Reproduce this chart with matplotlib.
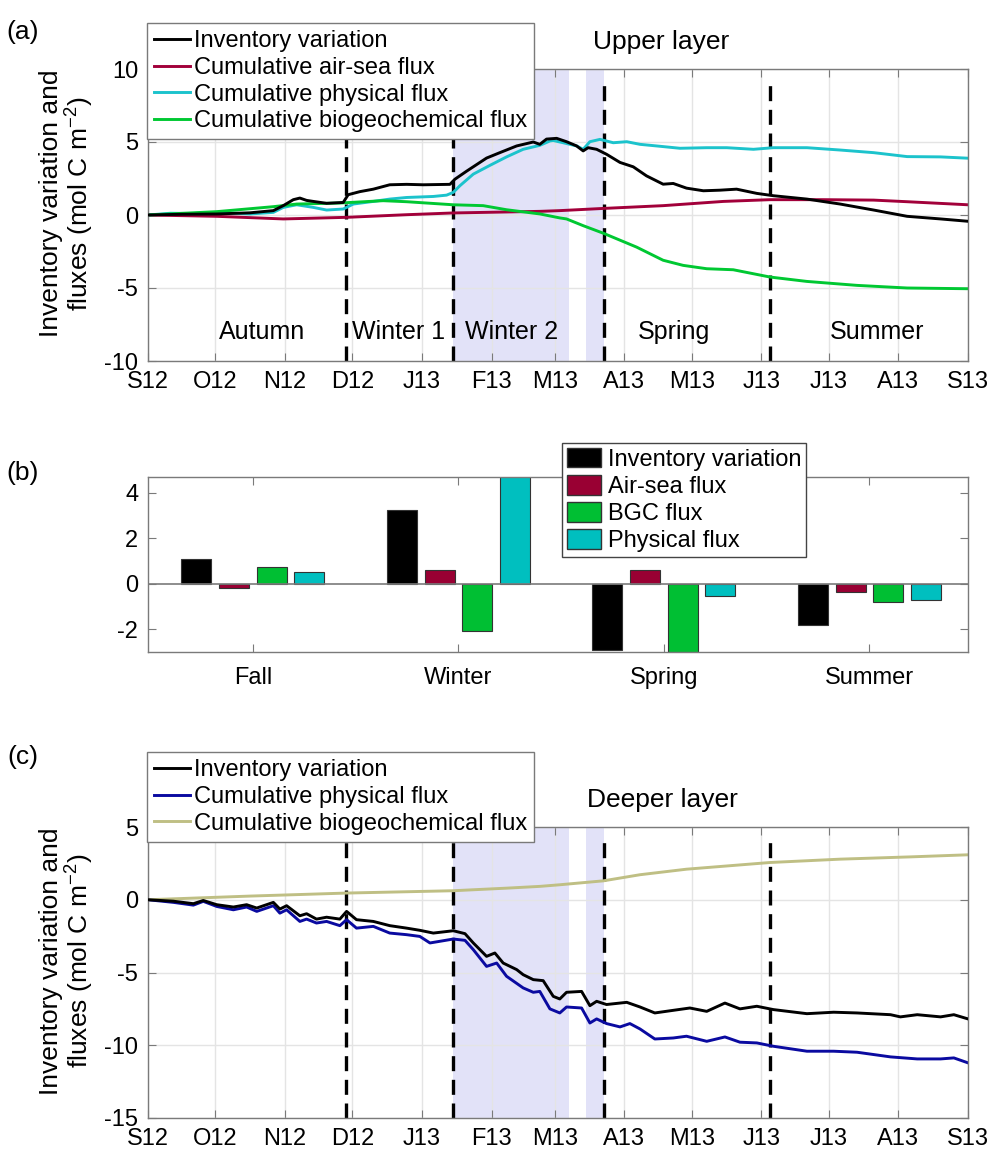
import numpy as np
import matplotlib
matplotlib.use("Agg")
import matplotlib.pyplot as plt
from matplotlib.patches import Patch

plt.rcParams.update({
    "font.family": ["Liberation Sans", "DejaVu Sans"],
    "font.size": 17,
    "axes.edgecolor": "#7a7a7a",
    "axes.linewidth": 1.0,
    "axes.unicode_minus": False,
    "mathtext.fontset": "custom",
    "mathtext.rm": "Liberation Sans",
    "mathtext.it": "Liberation Sans:italic",
})

# ---------------- data ----------------
# days since 1 Sep 2012
month_days = [0, 30, 61, 91, 122, 153, 181, 212, 242, 273, 303, 334, 365]
month_labels = ["S12", "O12", "N12", "D12", "J13", "F13", "M13", "A13",
                "M13", "J13", "J13", "A13", "S13"]

season_breaks = [88, 135.8, 203, 277]
shade_spans = [(135.8, 187.4), (195, 203)]
season_names = ["Autumn", "Winter 1", "Winter 2", "Spring", "Summer"]
season_x = [50.6, 111.7, 161.9, 234, 324.4]

# (a) upper layer
up_inv_d = [0, 15, 30.6, 45.4, 55.8, 60.2, 64.7, 67.6, 70.6, 73.6, 79.5, 86.9, 89.1,
            94.3, 100.3, 107.6, 115.1, 122.5, 134.4, 136.6, 141.8, 150.7, 156.6,
            164.1, 171.5, 174.4, 177.4, 181.9, 186.3, 190.8, 193.7, 195.9, 199.7,
            204.1, 210.1, 216, 221.9, 229.3, 233.8, 239.7, 247.2, 254.6, 262, 271,
            278.4, 293.3, 308.1, 323, 337.9, 352.8, 365]
up_inv_v = [0, 0.05, 0.07, 0.15, 0.3, 0.64, 1.05, 1.16, 1.0, 0.93, 0.8, 0.86, 1.39,
            1.6, 1.77, 2.07, 2.1, 2.07, 2.1, 2.45, 3.0, 3.9, 4.27, 4.73, 5.0, 4.84,
            5.2, 5.25, 5.02, 4.73, 4.39, 4.61, 4.5, 4.16, 3.6, 3.3, 2.68, 2.11, 2.16,
            1.84, 1.66, 1.7, 1.77, 1.48, 1.32, 1.09, 0.75, 0.34, -0.09, -0.27, -0.43]

up_air_d = [0, 30.6, 60.2, 88.4, 115.1, 135.9, 174.5, 183.3, 202.7, 229.3, 256.1,
            276.9, 300.7, 323, 337.9, 365]
up_air_v = [0, -0.09, -0.27, -0.16, 0.02, 0.14, 0.25, 0.3, 0.45, 0.64, 0.93, 1.05,
            1.05, 1.02, 0.91, 0.7]

up_phy_d = [0, 10, 20, 30.6, 45.4, 55.8, 60.2, 66.2, 73.6, 79.5, 86.9, 91.4, 100.3,
            107.6, 115.1, 127, 132.9, 135.9, 138.8, 144.8, 152.2, 159.6, 167, 174.4,
            178.9, 180.4, 184.8, 190.8, 193.7, 196.7, 201.2, 207.1, 213.1, 219,
            226.4, 236.8, 248.7, 257.6, 269.5, 278.4, 293.3, 308.1, 323, 337.9,
            352.8, 365]
up_phy_v = [0, 0.12, 0.1, 0.18, 0.07, 0.18, 0.52, 0.7, 0.52, 0.34, 0.41, 0.75, 0.93,
            1.09, 1.2, 1.27, 1.36, 1.55, 2.0, 2.8, 3.4, 3.98, 4.5, 4.77, 5.07, 5.1,
            4.95, 4.73, 4.5, 5.02, 5.18, 4.95, 5.02, 4.84, 4.73, 4.57, 4.61, 4.61,
            4.5, 4.61, 4.61, 4.45, 4.27, 4.0, 3.98, 3.89]

up_bgc_d = [0, 30.6, 55.8, 66.2, 85.4, 104.7, 115.1, 135.9, 149.2, 159.6, 174.5,
            183.3, 186.3, 193.7, 202.7, 217.5, 229.3, 238.2, 248.7, 260.5, 276.9,
            293.3, 315.6, 337.9, 365]
up_bgc_v = [0, 0.23, 0.57, 0.75, 0.82, 0.98, 0.91, 0.7, 0.64, 0.36, 0.07, -0.2,
            -0.27, -0.73, -1.25, -2.2, -3.1, -3.45, -3.68, -3.75, -4.25, -4.55,
            -4.82, -5.0, -5.05]

# (b) seasonal budgets
seasons = ["Fall", "Winter", "Spring", "Summer"]
bar_inv = [1.09, 3.24, -2.91, -1.81]
bar_air = [-0.19, 0.60, 0.60, -0.34]
bar_bgc = [0.76, -2.07, -2.99, -0.79]
bar_phy = [0.50, 4.75, -0.53, -0.72]

# (c) deeper layer
dp_inv_d = [0, 11.3, 20.2, 24.6, 30.6, 38, 43.9, 48.4, 55.8, 58.7, 61.7, 67.6, 70.6,
            75, 79.5, 85.4, 88.4, 92.8, 100.3, 107.6, 115.1, 121, 127, 135.9, 141.1,
            144.8, 150.7, 154.4, 158.1, 164.1, 167, 171.5, 175.9, 180.4, 183.3,
            186.3, 193, 196.7, 199.7, 204.1, 213.1, 219, 225.6, 233.8, 241.2, 248.7,
            256.8, 263.5, 271, 278.4, 293.3, 305.2, 315.6, 330.5, 334.9, 342.4,
            352.8, 358.7, 365]
dp_inv_v = [0, -0.1, -0.27, -0.05, -0.34, -0.5, -0.34, -0.57, -0.18, -0.64, -0.41,
            -1.1, -0.96, -1.33, -1.2, -1.33, -0.8, -1.37, -1.49, -1.78, -1.95, -2.1,
            -2.29, -2.13, -2.33, -2.97, -3.89, -3.66, -4.35, -4.8, -5.15, -5.49,
            -5.56, -6.64, -6.82, -6.36, -6.3, -7.28, -6.98, -7.2, -7.05, -7.37,
            -7.78, -7.6, -7.44, -7.67, -7.1, -7.5, -7.32, -7.55, -7.83, -7.73,
            -7.78, -7.9, -8.05, -7.9, -8.05, -7.9, -8.19]

dp_phy_d = [0, 11.3, 20.2, 24.6, 30.6, 38, 43.9, 48.4, 55.8, 58.7, 61.7, 67.6, 70.6,
            75, 79.5, 85.4, 88.4, 92.8, 100.3, 107.6, 115.1, 121, 125.5, 135.9,
            141.1, 144.8, 150.7, 155.2, 159.6, 167, 171.5, 174.4, 178.9, 183.3,
            186.3, 193, 196.7, 199.7, 204.1, 210.1, 214.5, 219, 225.6, 233.8, 239.7,
            248.7, 256.8, 263.5, 271, 278.4, 293.3, 305.2, 315.6, 330.5, 342.4,
            352.8, 358.7, 365]
dp_phy_v = [0, -0.18, -0.37, -0.11, -0.46, -0.69, -0.5, -0.8, -0.41, -0.92, -0.69,
            -1.49, -1.33, -1.6, -1.49, -1.78, -1.37, -1.95, -1.83, -2.29, -2.4,
            -2.52, -2.97, -2.7, -2.79, -3.43, -4.58, -4.35, -5.26, -6.06, -6.36,
            -6.3, -7.5, -7.78, -7.37, -7.44, -8.47, -8.19, -8.51, -8.74, -8.51,
            -8.88, -9.57, -9.5, -9.38, -9.73, -9.43, -9.79, -9.84, -10.07, -10.41,
            -10.41, -10.48, -10.8, -10.94, -10.94, -10.87, -11.21]

dp_bgc_d = [0, 45, 88.4, 135.9, 160, 174.5, 183.3, 202.7, 219, 239.7, 276.9, 308.1,
            340, 365]
dp_bgc_v = [0, 0.25, 0.46, 0.62, 0.8, 0.92, 1.03, 1.3, 1.72, 2.1, 2.56, 2.79, 2.95,
            3.09]

# ---------------- styling ----------------
C_BLACK = "#000000"
C_AIR = "#a2003a"
C_PHY = "#1cc3cc"
C_BGC = "#00c832"
C_DPHY = "#0a0aa0"
C_DBGC = "#bfbf84"
SHADE = "#e2e2f8"
GRID = "#e4e4e4"
LW = 2.1

W, H = 992, 1153
fig = plt.figure(figsize=(W / 100, H / 100), dpi=100)

def ax_rect(left, top, right, bottom):
    return [left / W, 1 - bottom / H, (right - left) / W, (bottom - top) / H]

def style_time_axis(ax, ylim, yticks):
    ax.set_xlim(0, 365)
    ax.set_ylim(*ylim)
    ax.set_xticks(month_days)
    ax.set_xticklabels(month_labels)
    ax.set_yticks(yticks)
    ax.grid(True, color=GRID, lw=1.0)
    ax.set_axisbelow(True)
    ax.tick_params(direction="in", length=6, color="#7a7a7a", top=True, right=True,
                   labelsize=17)
    ax.tick_params(axis="x", pad=7)
    ax.tick_params(axis="y", pad=7)
    for x0, x1 in shade_spans:
        ax.axvspan(x0, x1, color=SHADE, lw=0, zorder=0.5)
    for xb in season_breaks:
        ax.axvline(xb, ymin=0, ymax=0.955, color="k", lw=2.4, dashes=(4.5, 2.6),
                   zorder=1.5)
    ax.set_ylabel("Inventory variation and\nfluxes (mol C m$^{-2}$)", fontsize=19,
                  linespacing=1.05)
    ax.yaxis.set_label_coords(-0.063, 0.54)

def line_legend(handles, labels, top_px):
    leg = fig.legend(handles, labels, loc="upper left",
                     bbox_to_anchor=(147 / W, 1 - top_px / H),
                     fontsize=17, frameon=True, fancybox=False, framealpha=1,
                     edgecolor="#7a7a7a", borderpad=0.3, labelspacing=0.2,
                     handlelength=1.5, handletextpad=0.17, borderaxespad=0)
    leg.get_frame().set_linewidth(1.0)
    return leg

# ---------------- (a) ----------------
ax1 = fig.add_axes(ax_rect(148, 69, 968, 361))
style_time_axis(ax1, (-10, 10), [-10, -5, 0, 5, 10])
l1, = ax1.plot(up_inv_d, up_inv_v, color=C_BLACK, lw=LW, zorder=3)
l2, = ax1.plot(up_air_d, up_air_v, color=C_AIR, lw=LW, zorder=2)
l3, = ax1.plot(up_phy_d, up_phy_v, color=C_PHY, lw=LW, zorder=2)
l4, = ax1.plot(up_bgc_d, up_bgc_v, color=C_BGC, lw=LW, zorder=2)
for name, xs in zip(season_names, season_x):
    ax1.text(xs, -8.0, name, ha="center", va="center", fontsize=18)
line_legend([l1, l2, l3, l4],
            ["Inventory variation", "Cumulative air-sea flux",
             "Cumulative physical flux", "Cumulative biogeochemical flux"], 23)
fig.text(661 / W, 1 - 42 / H, "Upper layer", ha="center", va="center", fontsize=19)
fig.text(23 / W, 1 - 32 / H, "(a)", ha="center", va="center", fontsize=19)

# ---------------- (b) ----------------
ax2 = fig.add_axes(ax_rect(148, 477, 968, 652))
x = np.arange(1, len(seasons) + 1)
step = 0.183
width = 0.146
bar_sets = [(bar_inv, "#000000", "Inventory variation"),
            (bar_air, "#990033", "Air-sea flux"),
            (bar_bgc, "#00bf33", "BGC flux"),
            (bar_phy, "#00bfbf", "Physical flux")]
handles = []
for i, (vals, col, lab) in enumerate(bar_sets):
    ax2.bar(x + (i - 1.5) * step, vals, width, color=col, edgecolor="#333333",
            linewidth=0.8, zorder=2)
    handles.append(Patch(facecolor=col, edgecolor="#333333", label=lab))
ax2.axhline(0, color="#7a7a7a", lw=1.2, zorder=3)
ax2.set_xlim(0.49, 4.48)
ax2.set_ylim(-3.0, 4.7)
ax2.set_xticks(x)
ax2.set_xticklabels(seasons)
ax2.set_yticks([-2, 0, 2, 4])
ax2.tick_params(direction="in", length=6, color="#7a7a7a", top=True, right=True,
                labelsize=17)
ax2.tick_params(axis="x", pad=11)
ax2.tick_params(axis="y", pad=7)
fig.legend(handles=handles, loc="upper left",
           bbox_to_anchor=(562 / W, 1 - 443 / H), fontsize=17, frameon=True,
           fancybox=False, framealpha=1, edgecolor="#444444",
           borderpad=0.2, labelspacing=0.18, handlelength=1.45,
           handleheight=0.9, handletextpad=0.3, borderaxespad=0)
fig.text(23 / W, 1 - 473 / H, "(b)", ha="center", va="center", fontsize=19)

# ---------------- (c) ----------------
ax3 = fig.add_axes(ax_rect(148, 827, 968, 1118))
style_time_axis(ax3, (-15, 5), [-15, -10, -5, 0, 5])
m1, = ax3.plot(dp_inv_d, dp_inv_v, color=C_BLACK, lw=LW, zorder=3)
m2, = ax3.plot(dp_phy_d, dp_phy_v, color=C_DPHY, lw=LW, zorder=2)
m3, = ax3.plot(dp_bgc_d, dp_bgc_v, color=C_DBGC, lw=LW, zorder=2)
line_legend([m1, m2, m3],
            ["Inventory variation", "Cumulative physical flux",
             "Cumulative biogeochemical flux"], 752)
fig.text(662 / W, 1 - 800 / H, "Deeper layer", ha="center", va="center", fontsize=19)
fig.text(23 / W, 1 - 757 / H, "(c)", ha="center", va="center", fontsize=19)

fig.savefig("out.png", dpi=100, facecolor="white")
